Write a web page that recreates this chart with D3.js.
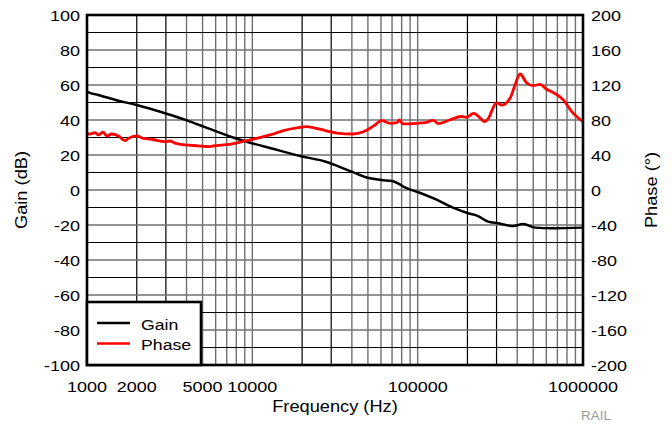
<!DOCTYPE html>
<html>
<head>
<meta charset="utf-8">
<script src="https://cdn.jsdelivr.net/npm/d3@7/dist/d3.min.js"></script>
<style>
  html, body { margin: 0; padding: 0; background: #fff; }
  svg { display: block; font-family: "Liberation Sans", Arial, sans-serif; }
</style>
</head>
<body>
<svg id="chart" width="672" height="425"></svg>
<script>
// Loop gain / phase response
const gainFreq = [1000, 1040, 1170, 1550, 2000, 3100, 3900, 4820, 5420, 7660, 9700, 12770, 19500,
  27500, 39900, 50000, 60500, 69900, 76000, 83700, 101000, 127000, 168000, 202000, 232000,
  267000, 307000, 378000, 435000, 514000, 644000, 1000000];
const gainDb = [56.2, 55.5, 54.3, 51, 48.6, 43.3, 40.2, 37, 35.2, 30, 27, 24, 19.4,
  16.3, 10.5, 7, 5.7, 5.1, 3.8, 1.5, -1.3, -5.1, -10.5, -13.3, -14.9,
  -18.1, -19, -20.6, -19.4, -21.5, -21.9, -21.5];

const phaseFreq = [1000, 1040, 1120, 1170, 1250, 1320, 1410, 1550, 1700, 1780, 2000, 2190, 2460,
  2960, 3180, 3400, 3900, 4700, 5400, 5800, 7000, 8800, 10600, 12800, 15400, 19400, 21300,
  25600, 29500, 32400, 40700, 46900, 54000, 60700, 68100, 74800, 77600, 81400, 98900, 110900,
  124500, 133200, 156300, 183700, 197000, 218000, 240000, 254000, 266000, 300000, 323000,
  362000, 388000, 416000, 457000, 500000, 549000, 602000, 646000, 760000, 855000, 1000000];
const phaseDeg = [64, 64, 65.5, 63, 66, 61.7, 64, 61.7, 56.4, 59, 61.7, 59, 58,
  55.2, 56, 53.5, 51.6, 50.5, 49.5, 50.3, 51.8, 55.5, 59, 62.9, 67.8, 71.6, 72.4,
  69.5, 66.7, 65, 64, 66.5, 73, 79.2, 76.2, 76.9, 80, 75.5, 76.2, 77,
  79.5, 75.8, 80, 84, 83, 87.6, 82, 78.1, 81, 99.5, 97.1,
  104.8, 120, 132.6, 122.3, 119.2, 120.8, 115.1, 112.4, 103, 89.5, 78];

const freqTicks = [1000, 2000, 5000, 10000, 100000, 1000000];
const gainTicks = [100, 80, 60, 40, 20, 0, -20, -40, -60, -80, -100];
const phaseTicks = [200, 160, 120, 80, 40, 0, -40, -80, -120, -160, -200];

const svg = d3.select("#chart");
const L = 87, R = 583, T = 15, B = 365;

const x = d3.scaleLog().domain([1000, 1000000]).range([L, R]);
const yG = d3.scaleLinear().domain([-100, 100]).range([B, T]);
const yP = d3.scaleLinear().domain([-200, 200]).range([B, T]);

// text helper: horizontally widened glyphs
function label(px, py, str, opts) {
  const o = Object.assign({ size: 15, sx: 1.2, anchor: "start", rot: 0, fill: "#000" }, opts || {});
  const g = svg.append("g").attr("transform", `translate(${px},${py}) rotate(${o.rot})`);
  g.append("text")
    .attr("transform", `scale(${o.sx},1)`)
    .attr("text-anchor", o.anchor)
    .attr("font-size", o.size)
    .attr("fill", o.fill)
    .text(str);
}

// grid: vertical lines at each 1..9 multiple per decade
const vLines = [];
for (let d = 1000; d < 1000000; d *= 10) {
  for (let m = 1; m <= 9; m++) vLines.push({ f: d * m, dark: m === 2 || m === 3 });
}
const grid = svg.append("g");
grid.selectAll("line.v").data(vLines).join("line")
  .attr("x1", d => x(d.f)).attr("x2", d => x(d.f))
  .attr("y1", T).attr("y2", B)
  .attr("stroke", d => d.dark ? "#000" : "#707070")
  .attr("stroke-width", d => d.dark ? 1.2 : 1.4);

const hLines = d3.range(-90, 100, 10);
grid.selectAll("line.h").data(hLines).join("line")
  .attr("x1", L).attr("x2", R)
  .attr("y1", d => yG(d)).attr("y2", d => yG(d))
  .attr("stroke", d => (d % 20 === 0) ? "#707070" : "#000")
  .attr("stroke-width", d => (d % 20 === 0) ? 1.4 : 1.2);

// curves
const gainLine = d3.line().x(d => x(d[0])).y(d => yG(d[1])).curve(d3.curveMonotoneX);
const phaseLine = d3.line().x(d => x(d[0])).y(d => yP(d[1])).curve(d3.curveMonotoneX);

svg.append("path")
  .datum(gainFreq.map((f, i) => [f, gainDb[i]]))
  .attr("d", gainLine)
  .attr("fill", "none").attr("stroke", "#000").attr("stroke-width", 2.5)
  .attr("stroke-linejoin", "round");

svg.append("path")
  .datum(phaseFreq.map((f, i) => [f, phaseDeg[i]]))
  .attr("d", phaseLine)
  .attr("fill", "none").attr("stroke", "#ff0000").attr("stroke-width", 2.8)
  .attr("stroke-linejoin", "round");

// plot frame
svg.append("rect")
  .attr("x", L).attr("y", T).attr("width", R - L).attr("height", B - T)
  .attr("fill", "none").attr("stroke", "#000").attr("stroke-width", 2.6);

// legend
const lg = svg.append("g");
lg.append("rect").attr("x", 87).attr("y", 302).attr("width", 114).attr("height", 63)
  .attr("fill", "#fff").attr("stroke", "#000").attr("stroke-width", 2.6);
lg.append("line").attr("x1", 97).attr("x2", 130).attr("y1", 323).attr("y2", 323)
  .attr("stroke", "#000").attr("stroke-width", 2.5);
lg.append("line").attr("x1", 97).attr("x2", 130).attr("y1", 343.5).attr("y2", 343.5)
  .attr("stroke", "#ff0000").attr("stroke-width", 2.5);
label(141, 330, "Gain", { sx: 1.18 });
label(141, 350, "Phase", { sx: 1.18 });

// axis tick labels
gainTicks.forEach(v => label(80, yG(v) + 5.5, String(v), { anchor: "end" }));
phaseTicks.forEach(v => label(591, yP(v) + 5.5, String(v), { anchor: "start" }));
freqTicks.forEach(v => label(x(v), 391.5, String(v), { anchor: "middle" }));

// axis titles
label(335, 412, "Frequency (Hz)", { size: 16, sx: 1.14, anchor: "middle" });
label(27, 190, "Gain (dB)", { size: 16, sx: 1.14, anchor: "middle", rot: -90 });
label(657, 190, "Phase (\u00B0)", { size: 16, sx: 1.14, anchor: "middle", rot: -90 });

label(581, 420, "RAIL", { size: 12, sx: 1.12, fill: "#9a9a9a" });
</script>
</body>
</html>
